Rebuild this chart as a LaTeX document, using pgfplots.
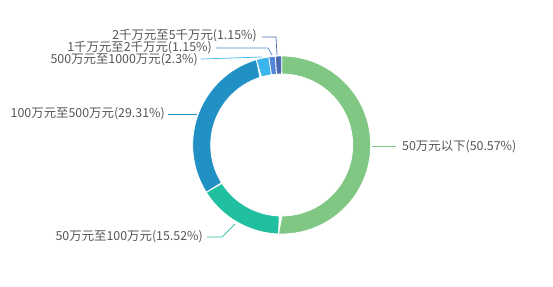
\documentclass[border=0pt]{standalone}
\usepackage{pgfplots}
\pgfplotsset{compat=1.18}
\usepackage{fontspec}
\setmainfont{Noto Sans CJK SC}
\definecolor{cA}{HTML}{80C783}
\definecolor{cB}{HTML}{1FBF9F}
\definecolor{cC}{HTML}{2190C4}
\definecolor{cD}{HTML}{3CB4EC}
\definecolor{cE}{HTML}{4F86D9}
\definecolor{cF}{HTML}{4A6BB0}
\definecolor{txt}{HTML}{555555}
\tikzset{lbl/.style={font=\fontsize{12.4bp}{14bp}\selectfont, text=txt, inner sep=0pt}}
% shares (percent), clockwise from 12 o'clock
\def\pA{50.57}\def\pB{15.52}\def\pC{29.31}\def\pD{2.3}\def\pE{1.15}\def\pF{1.15}
\pgfmathsetmacro\cA{0}
\pgfmathsetmacro\cB{\cA+\pA}
\pgfmathsetmacro\cC{\cB+\pB}
\pgfmathsetmacro\cD{\cC+\pC}
\pgfmathsetmacro\cE{\cD+\pD}
\pgfmathsetmacro\cF{\cE+\pE}
\pgfmathsetmacro\cG{\cF+\pF}
\def\Ro{89}\def\Ri{71}
\newcommand\slice[3]{%
  \pgfmathsetmacro\aS{90-3.6*#2}%
  \pgfmathsetmacro\aE{90-3.6*#3}%
  \addplot[fill=#1, draw=white, line width=0.8pt, domain=0:2, samples=161, variable=\t]
    ({((\t<=1) ? \Ro : \Ri)*cos(((\t<=1) ? (\aS+\t*(\aE-\aS)) : (\aE-(\t-1)*(\aE-\aS))))},
     {((\t<=1) ? \Ro : \Ri)*sin(((\t<=1) ? (\aS+\t*(\aE-\aS)) : (\aE-(\t-1)*(\aE-\aS))))}) -- cycle;
}
\begin{document}
\begin{tikzpicture}
\begin{axis}[
  width=553bp, height=287bp, scale only axis,
  xmin=-281.7, xmax=271.3, ymin=-142, ymax=145,
  hide axis, clip=false,
]
\slice{cA}{\cA}{\cB}
\slice{cB}{\cB}{\cC}
\slice{cC}{\cC}{\cD}
\slice{cD}{\cD}{\cE}
\slice{cE}{\cE}{\cF}
\slice{cF}{\cF}{\cG}
% leader lines
\draw[cF, line width=0.7pt] (axis cs:-19.7,108) -- (axis cs:-5.7,108) -- (axis cs:-4.7,90);
\draw[cE, line width=0.7pt] (axis cs:-65.7,97) -- (axis cs:-13.7,97) -- (axis cs:-9.7,90);
\draw[cD, line width=0.7pt] (axis cs:-80.7,86) -- (axis cs:-19.7,88);
\draw[cC, line width=0.7pt] (axis cs:-113.7,31) -- (axis cs:-85,31);
\draw[cA, line width=0.7pt] (axis cs:90.3,-1.5) -- (axis cs:114.3,-1.5);
\draw[cB, line width=0.7pt] (axis cs:-74.7,-92) -- (axis cs:-59.7,-92) -- (axis cs:-46.5,-79);
% labels
\node[lbl, anchor=east] at (axis cs:-24.7,109) {2千万元至5千万元(1.15\%)};
\node[lbl, anchor=east] at (axis cs:-69.7,97) {1千万元至2千万元(1.15\%)};
\node[lbl, anchor=east] at (axis cs:-83.7,85) {500万元至1000万元(2.3\%)};
\node[lbl, anchor=east] at (axis cs:-116.7,31) {100万元至500万元(29.31\%)};
\node[lbl, anchor=west] at (axis cs:120.3,-2) {50万元以下(50.57\%)};
\node[lbl, anchor=east] at (axis cs:-78.7,-92) {50万元至100万元(15.52\%)};
\end{axis}
\path (current axis.south west) rectangle (current axis.north east);
\end{tikzpicture}
\end{document}
